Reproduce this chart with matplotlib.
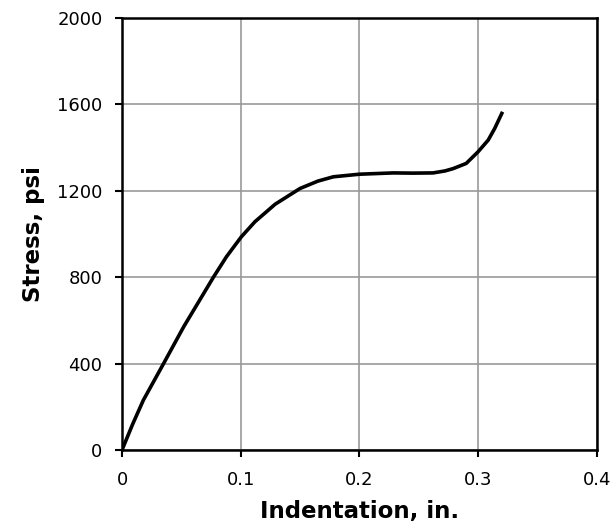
import matplotlib
matplotlib.use("Agg")
import matplotlib.pyplot as plt

# stress-indentation curve
indentation = [0.0, 0.009, 0.018, 0.035, 0.052, 0.065, 0.077, 0.088, 0.1005, 0.112,
               0.129, 0.15, 0.165, 0.178, 0.2, 0.2285, 0.245, 0.262, 0.272, 0.279,
               0.29, 0.3, 0.3085, 0.314, 0.3206]
stress = [0, 120, 231, 400, 571, 690, 800, 895, 987, 1057,
          1138, 1211, 1245, 1265, 1277, 1283, 1282, 1283, 1292, 1303,
          1327, 1381, 1435, 1489, 1566]

xticks = [0, 0.1, 0.2, 0.3, 0.4]
yticks = [0, 400, 800, 1200, 1600, 2000]

fig = plt.figure(figsize=(6.14, 5.31), dpi=100)
ax = fig.add_axes([0.1987, 0.1525, 0.7733, 0.8135])

ax.plot(indentation, stress, color='black', lw=2.6, solid_capstyle='butt', zorder=3)

ax.set_xlim(0, 0.4)
ax.set_ylim(0, 2000)
ax.set_xticks(xticks)
ax.set_xticklabels(['0', '0.1', '0.2', '0.3', '0.4'])
ax.set_yticks(yticks)
ax.grid(True, color='#999999', lw=1.2)
ax.set_axisbelow(True)

for s in ax.spines.values():
    s.set_linewidth(1.8)
ax.tick_params(direction='out', length=5, width=1.5, labelsize=13, color='black')
ax.tick_params(axis='x', pad=10)
ax.tick_params(axis='y', pad=9)

ax.set_xlabel('Indentation, in.', fontsize=16.5, fontweight='bold', labelpad=8)
ax.set_ylabel('Stress, psi', fontsize=16.5, fontweight='bold', labelpad=9)

fig.savefig('out.png', dpi=100)
